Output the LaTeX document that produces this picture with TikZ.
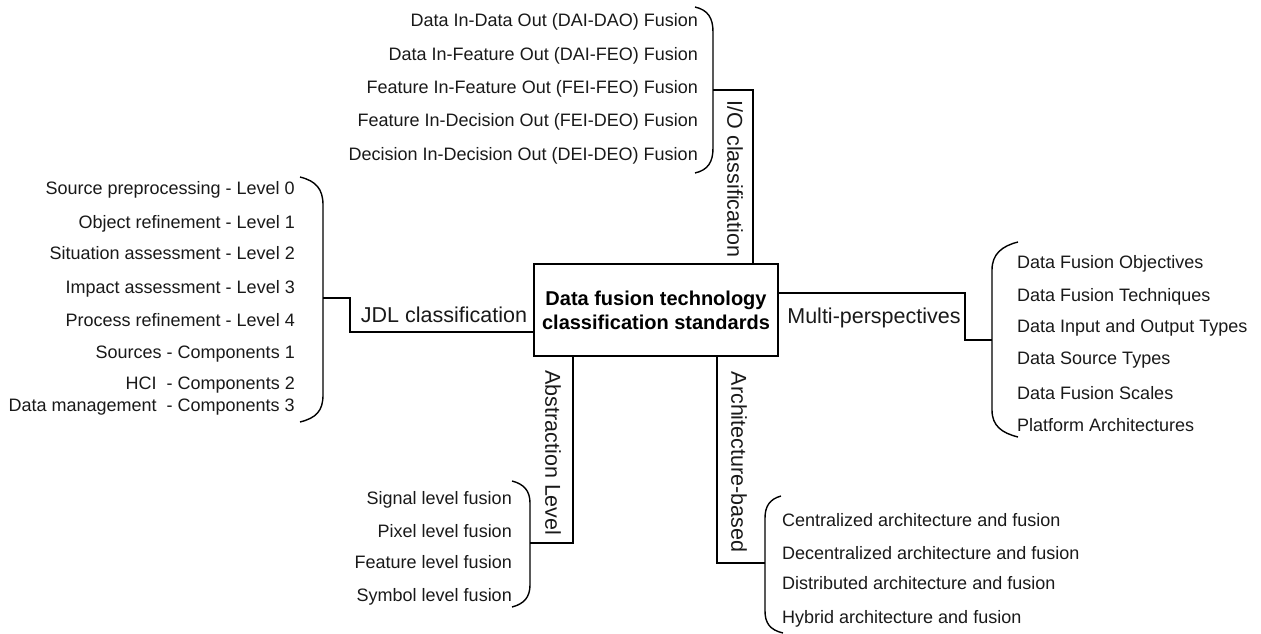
\documentclass[tikz,border=0pt]{standalone}
\usepackage{fontspec}
\setmainfont{Liberation Sans}
\begin{document}
\begin{tikzpicture}[x=1pt,y=-1pt,
  line/.style={line width=1.4pt, line join=miter},
  brace/.style={line width=1.4pt},
  item/.style={font=\fontsize{18}{20}\selectfont, inner sep=0pt, text=black!90},
  itemR/.style={item, anchor=base east},
  itemL/.style={item, anchor=base west},
  label/.style={font=\fontsize{21.5}{24}\selectfont, inner sep=0pt, text=black!90},
  vlabel/.style={label, rotate=-90},
  mainbox/.style={draw, line width=1.4pt, minimum width=244pt, minimum height=92pt,
    inner sep=0pt, align=center, font=\bfseries\fontsize{20}{24}\selectfont}
]
\useasboundingbox (0,0) rectangle (1261,634);

% central box
\node[mainbox] (box) at (656,310) {Data fusion technology\\classification standards};

% ---------- I/O classification ----------
\node[itemR] (io1) at (698,26.5) {Data In-Data Out (DAI-DAO) Fusion};
\node[itemR] (io2) at (698,60.5) {Data In-Feature Out (DAI-FEO) Fusion};
\node[itemR] (io3) at (698,93.5) {Feature In-Feature Out (FEI-FEO) Fusion};
\node[itemR] (io4) at (698,126.5) {Feature In-Decision Out (FEI-DEO) Fusion};
\node[itemR] (io5) at (698,160.5) {Decision In-Decision Out (DEI-DEO) Fusion};
\draw[brace] (695,7) .. controls +(13,3) and +(0,-14) .. (713,32) -- (713,148)
  .. controls +(0,14) and +(13,-3) .. (695,173);
\coordinate (iobr) at (713,90);
\coordinate (iotop) at (753,90);
\node[vlabel] (iolab) at (735,179) {I/O classification};
\draw[line] (box.north -| iotop) -- (iotop) -- (iobr);

% ---------- JDL classification ----------
\node[itemR] (j1) at (295,194.5) {Source preprocessing - Level 0};
\node[itemR] (j2) at (295,228) {Object refinement - Level 1};
\node[itemR] (j3) at (295,259.5) {Situation assessment - Level 2};
\node[itemR] (j4) at (295,293.5) {Impact assessment - Level 3};
\node[itemR] (j5) at (295,326.5) {Process refinement - Level 4};
\node[itemR] (j6) at (295,358.5) {Sources - Components 1};
\node[itemR] (j7) at (295,389) {HCI~ - Components 2};
\node[itemR] (j8) at (295,411.5) {Data management~ - Components 3};
\draw[brace] (300,177) .. controls +(16,4) and +(0,-16) .. (323,205) -- (323,395)
  .. controls +(0,16) and +(16,-4) .. (300,422);
\coordinate (jdlbr) at (323,298);
\coordinate (jdlk) at (350,298);
\coordinate (jdlbot) at (350,332);
\node[label] (jdllab) at (444,315) {JDL classification};
\draw[line] (box.west |- jdlbot) -- (jdlbot) -- (jdlk) -- (jdlbr);

% ---------- Abstraction Level ----------
\node[itemR] (a1) at (512,504.5) {Signal level fusion};
\node[itemR] (a2) at (512,537.5) {Pixel level fusion};
\node[itemR] (a3) at (512,568.5) {Feature level fusion};
\node[itemR] (a4) at (512,601.5) {Symbol level fusion};
\draw[brace] (512,481) .. controls +(12,3) and +(0,-12) .. (530,503) -- (530,585)
  .. controls +(0,12) and +(12,-3) .. (512,607);
\coordinate (abbr) at (530,543);
\coordinate (abk) at (573,543);
\node[vlabel] (ablab) at (553,453) {Abstraction Level};
\draw[line] (box.south -| abk) -- (abk) -- (abbr);

% ---------- Architecture-based ----------
\node[itemL] (r1) at (782,526.5) {Centralized architecture and fusion};
\node[itemL] (r2) at (782,559.5) {Decentralized architecture and fusion};
\node[itemL] (r3) at (782,589.5) {Distributed architecture and fusion};
\node[itemL] (r4) at (782,623.5) {Hybrid architecture and fusion};
\draw[brace] (781,496) .. controls +(-11,3) and +(0,-12) .. (765,518) -- (765,611)
  .. controls +(0,12) and +(-13,-3) .. (783,633);
\coordinate (arbr) at (765,563);
\coordinate (ark) at (717,563);
\node[vlabel] (arlab) at (739,462) {Architecture-based};
\draw[line] (box.south -| ark) -- (ark) -- (arbr);

% ---------- Multi-perspectives ----------
\node[itemL] (m1) at (1017,268.5) {Data Fusion Objectives};
\node[itemL] (m2) at (1017,301.5) {Data Fusion Techniques};
\node[itemL] (m3) at (1017,332.5) {Data Input and Output Types};
\node[itemL] (m4) at (1017,364.5) {Data Source Types};
\node[itemL] (m5) at (1017,399.5) {Data Fusion Scales};
\node[itemL] (m6) at (1017,431.5) {Platform Architectures};
\draw[brace] (1018,242) .. controls +(-16,4) and +(0,-16) .. (992,270) -- (992,410)
  .. controls +(0,16) and +(-16,-4) .. (1018,437);
\coordinate (mubr) at (992,340);
\coordinate (mubot) at (965,340);
\coordinate (mutop) at (965,293);
\node[label] (mulab) at (874,318) {Multi-perspectives};
\draw[line] (box.east |- mutop) -- (mutop) -- (mubot) -- (mubr);
\end{tikzpicture}
\end{document}
